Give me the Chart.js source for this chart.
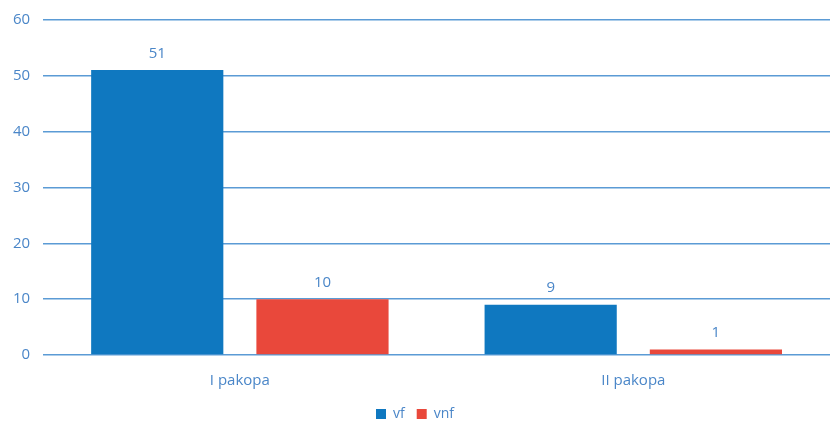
<!DOCTYPE html>
<html>
<head>
<meta charset="utf-8">
<script src="https://cdn.jsdelivr.net/npm/chart.js@4"></script>
<style>
    html, body { margin: 0; padding: 0; background: #fff; }
    #wrap { width: 830px; height: 423px; }
</style>
</head>
<body>
<div id="wrap"><canvas id="chart_canvas" width="830" height="423"></canvas></div>
<script>
/* chart values */
const categories = ['I pakopa', 'II pakopa'];
const vf = [51, 9];
const vnf = [10, 1];
const series_names = ['vf', 'vnf'];

const text_colour = '#4a86c8';
const grid_colour = '#5b9bd5';
const font_family = '"Open Sans", sans-serif';

// draw value labels above each bar
const bar_labels =
{
    id: 'bar_labels',
    afterDatasetsDraw: function (chart)
    {
        const ctx = chart.ctx;
        ctx.save();
        ctx.fillStyle = text_colour;
        ctx.font = '15px ' + font_family;
        ctx.textAlign = 'center';
        ctx.textBaseline = 'bottom';
        chart.data.datasets.forEach(function (ds, ii)
        {
            chart.getDatasetMeta(ii).data.forEach(function (bar, jj)
            {
                ctx.fillText(ds.data[jj], bar.x, bar.y - 9);
            });
        });
        ctx.restore();
    }
};

const data =
{
    labels: categories,
    datasets: [
        { label: series_names[0], data: vf, backgroundColor: '#0f78c0' },
        { label: series_names[1], data: vnf, backgroundColor: '#e9483b' }
    ]
};

const options =
{
    responsive: false,
    animation: false,
    categoryPercentage: 0.84,
    barPercentage: 0.8,
    layout: { padding: { top: 0, right: 0, left: 0, bottom: -8 } },
    scales:
    {
        x:
        {
            grid: { display: false },
            border: { display: false },
            ticks: { color: text_colour, font: { size: 15, family: font_family }, padding: 9 },
            afterFit: function (scale) { scale.height -= 4; }
        },
        y:
        {
            min: 0, max: 60,
            grid: { color: grid_colour, lineWidth: 1.5, drawTicks: false },
            border: { display: false },
            ticks: { stepSize: 10, color: text_colour, font: { size: 15, family: font_family, lineHeight: 0.9 }, padding: 13 }
        }
    },
    plugins:
    {
        legend:
        {
            position: 'bottom',
            labels: { color: text_colour, boxWidth: 10, boxHeight: 10, padding: 12, font: { size: 14, family: font_family } }
        },
        tooltip: { enabled: false }
    }
};

const config = { type: 'bar', data: data, options: options, plugins: [bar_labels] };
const chart = new Chart(document.getElementById('chart_canvas'), config);
</script>
</body>
</html>
